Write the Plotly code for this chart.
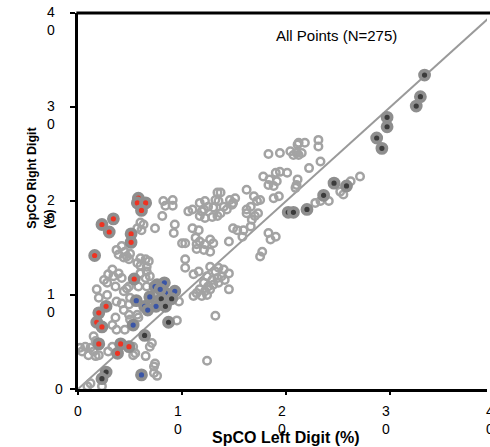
import plotly.graph_objects as go

# ---------------- data (SpCO %, left digit vs right digit) ----------------
gray_x = [8.2, 8.4, 9.1, 9.1, 8.1, 7.4, 6.0, 6.3, 5.7, 6.1, 9.3, 9.2, 10.0,
          3.7, 4.2, 4.5, 3.9, 4.4, 4.7, 5.0, 4.9, 6.0, 6.5, 6.8, 6.6, 6.0, 5.7,
          3.3, 2.9, 3.4, 3.9, 4.2, 6.0, 6.6, 6.9, 6.5, 10.3, 10.3, 2.5, 2.8,
          4.9, 5.8, 6.6,
          1.8, 2.0, 2.8, 3.6, 4.4, 4.7, 3.7, 4.2, 4.4, 4.9, 5.0, 5.0, 5.7, 5.8,
          4.9, 3.6, 3.3, 3.7, 4.5, 1.5, 1.7, 0.2, 0.7, 1.2, 1.5, 2.0, 1.7, 1.0,
          0.4, 2.9, 3.3, 5.3, 5.3, 5.5, 6.5, 7.1, 6.9, 7.4, 7.3, 7.3, 7.6, 1.2,
          0.9, 2.3, 9.5,
          18.3, 19.4, 20.4, 21.1, 20.7, 21.2, 21.0, 21.5, 21.2, 21.8, 23.1, 23.1,
          23.3, 22.2, 17.8, 18.4, 19.0, 19.4, 20.1, 19.1, 18.3, 21.1, 18.8, 21.0,
          16.2, 13.4, 13.7, 13.2, 13.5, 14.6, 15.1, 14.9, 11.7, 12.2, 12.5, 13.0,
          14.0, 14.3, 14.8, 13.7, 10.6, 11.0, 11.9, 11.7, 12.2, 12.9, 13.4, 12.1,
          16.2, 16.6, 17.2, 17.3, 17.0, 16.7, 18.8, 19.3, 20.9, 16.9, 17.5,
          26.2, 27.1, 25.2, 25.5, 22.8, 23.3, 24.1, 16.2, 16.6, 15.9,
          11.0, 11.6, 14.9, 15.3, 11.3, 11.7, 12.7, 13.0, 11.4, 12.2, 14.5, 15.8,
          18.3, 18.5, 19.0, 17.7, 17.5,
          10.3, 11.4, 12.1, 12.7, 11.1, 11.6, 12.7, 13.2, 13.5, 14.0, 14.5, 12.4,
          12.9, 13.4, 13.8, 14.1, 12.1, 12.5, 13.0, 13.5, 11.7, 12.2, 12.7, 11.4,
          11.9, 11.1, 12.4, 14.5, 9.7, 13.2, 12.4]
gray_y = [20.0, 19.5, 20.1, 19.5, 18.4, 17.1, 17.7, 17.5, 17.1, 16.9, 17.5, 16.6, 15.5,
          14.8, 15.2, 14.6, 14.3, 14.0, 14.1, 14.4, 13.8, 13.9, 13.8, 13.6, 13.0, 13.1, 13.4,
          12.7, 12.2, 12.0, 12.3, 11.8, 12.3, 12.5, 12.0, 11.8, 12.9, 13.8, 11.6, 11.3,
          10.9, 10.9, 10.9,
          10.6, 9.7, 10.0, 10.9, 10.4, 10.7, 9.3, 9.1, 8.4, 9.0, 9.7, 7.4, 7.9, 7.6,
          7.9, 7.6, 6.8, 6.3, 6.3, 5.6, 5.1, 4.4, 4.5, 4.4, 4.0, 3.6, 3.5, 3.6,
          4.0, 4.0, 4.5, 4.5, 3.6, 3.8, 3.5, 4.9, 4.5, 2.7, 2.4, 1.7, 1.4, 0.6,
          0.3, 0.3, 7.3,
          25.0, 25.1, 25.3, 26.0, 24.9, 24.9, 25.1, 25.1, 26.2, 26.2, 26.5, 25.8,
          24.2, 23.5, 22.6, 22.3, 23.0, 23.1, 23.0, 22.1, 21.7, 22.3, 21.6, 21.7,
          21.2, 20.9, 20.9, 20.1, 20.0, 20.1, 20.3, 19.8, 19.8, 20.0, 19.4, 19.3,
          19.4, 19.1, 19.6, 18.7, 18.9, 19.1, 18.9, 18.4, 18.2, 18.3, 18.4, 19.1,
          19.1, 19.4, 20.0, 18.7, 18.4, 18.0, 20.3, 20.5, 21.4, 20.5, 20.1,
          22.1, 22.6, 21.0, 20.7, 19.8, 20.0, 20.0, 18.7, 17.3, 16.9,
          17.1, 16.9, 17.1, 16.9, 16.1, 15.7, 15.9, 15.5, 15.4, 15.4, 15.7, 16.2,
          16.6, 15.9, 16.2, 14.6, 14.1,
          15.5, 14.9, 14.8, 14.6, 12.2, 12.5, 13.0, 12.5, 12.9, 12.7, 12.3, 12.0,
          11.6, 11.8, 12.0, 11.6, 11.3, 10.9, 11.1, 11.3, 10.6, 10.4, 10.6, 10.2,
          9.9, 9.9, 10.0, 10.6, 9.3, 7.8, 3.0]

red_x = [5.8, 5.7, 6.5, 6.1, 3.4, 2.3, 3.0, 5.1, 5.1, 1.6, 5.4, 2.7, 2.0, 1.8,
         2.3, 2.0, 4.1, 4.9, 3.8]
red_y = [20.3, 19.8, 19.8, 19.0, 18.1, 17.5, 16.7, 16.5, 15.6, 14.2, 11.7, 8.8,
         8.1, 7.1, 6.6, 4.8, 4.8, 4.5, 3.8]

blue_x = [7.6, 8.3, 5.6, 6.4, 6.9, 7.5, 8.4, 9.3, 6.7, 5.3, 6.1, 7.4, 7.9]
blue_y = [11.1, 11.3, 9.4, 8.8, 9.8, 8.8, 10.2, 10.4, 8.4, 6.8, 1.5, 10.9, 10.6]

dark_x = [9.0, 8.0, 8.4, 8.7, 6.4, 2.7, 2.3,
          33.3, 32.9, 32.5, 29.7, 29.7, 28.7, 29.2, 24.6, 25.8, 23.6, 20.2, 20.7, 22.0]
dark_y = [9.6, 9.6, 8.8, 7.1, 5.7, 1.8, 1.1,
          33.4, 31.1, 30.1, 28.9, 27.9, 26.7, 25.6, 21.9, 21.6, 20.6, 18.8, 18.8, 19.1]

identity = [0, 40]

x_ticks = [0, 10, 20, 30, 40]
x_tick_text = ["0", "1<br>0", "2<br>0", "3<br>0", "4<br>0"]
y_ticks = [0, 10, 20, 30, 40]
y_tick_text = ["0", "1<br>0", "2<br>0", "3<br>0", "4<br>0"]

X_MAX = 39.3
Y_MAX = 40

FONT = "Liberation Sans, Arial, sans-serif"
HALO = "#8e8e8e"

fig = go.Figure()

fig.add_trace(go.Scatter(x=identity, y=identity, mode="lines",
                         line=dict(color="#9a9a9a", width=2),
                         hoverinfo="skip", showlegend=False))

fig.add_trace(go.Scatter(x=gray_x, y=gray_y, mode="markers", cliponaxis=False,
                         marker=dict(symbol="circle-open", size=7.5, color="#a3a3a3",
                                     line=dict(width=2.5, color="#a3a3a3")),
                         showlegend=False))

for xs, ys, col in [(red_x, red_y, "#ee3322"),
                    (blue_x, blue_y, "#3a55a6"),
                    (dark_x, dark_y, "#3b3b3b")]:
    fig.add_trace(go.Scatter(x=xs, y=ys, mode="markers", cliponaxis=False,
                             marker=dict(symbol="circle", size=9, color=col,
                                         line=dict(width=3.8, color=HALO)),
                             showlegend=False))

annotations = []
for v, t in zip(x_ticks, x_tick_text):
    annotations.append(dict(x=v / X_MAX, xref="paper", y=0, yref="paper",
                            text=t, showarrow=False, xanchor="center", yanchor="top",
                            xshift=0 if "<br>" not in t else -4.5, yshift=-12,
                            font=dict(family=FONT, size=14, color="black")))
for v, t in zip(y_ticks, y_tick_text):
    multi = "<br>" in t
    annotations.append(dict(x=0, xref="paper", y=v / Y_MAX, yref="paper",
                            text=t, showarrow=False, xanchor="center", yanchor="middle",
                            xshift=-27 if multi else -19, yshift=-7.5 if multi else 0,
                            font=dict(family=FONT, size=14, color="black")))

annotations.append(dict(x=(286 - 78) / 409, xref="paper", y=0, yref="paper",
                        yanchor="middle", yshift=-48, xanchor="center",
                        text="<b>SpCO Left Digit (%)</b>", showarrow=False,
                        font=dict(family=FONT, size=16, color="black")))
annotations.append(dict(x=0, xref="paper", xshift=-38, xanchor="center",
                        y=(389.3 - 231) / 376, yref="paper", yanchor="bottom",
                        text="<b>SpCO Right Digit<br>(%)</b>", showarrow=False,
                        textangle=-90, align="left",
                        font=dict(family=FONT, size=12.5, color="black")))
annotations.append(dict(x=(336 - 78) / 409, xref="paper", y=(389.3 - 36) / 376, yref="paper",
                        xanchor="center", yanchor="middle",
                        text="All Points (N=275)", showarrow=False,
                        font=dict(family=FONT, size=15, color="black")))

fig.update_layout(
    width=490, height=447,
    margin=dict(l=78, r=3, t=13, b=58),
    paper_bgcolor="white", plot_bgcolor="white",
    font=dict(family=FONT, size=14, color="black"),
    showlegend=False,
    annotations=annotations,
    shapes=[dict(type="line", xref="paper", yref="paper", x0=-0.004, x1=1.02, y0=1, y1=1,
                 line=dict(color="black", width=3))],
    xaxis=dict(range=[0, X_MAX], showgrid=False, zeroline=False,
               showline=True, linewidth=3, linecolor="black", mirror=False,
               tickvals=x_ticks, showticklabels=False,
               ticks="outside", ticklen=3, tickwidth=2, tickcolor="black"),
    yaxis=dict(range=[0, Y_MAX], showgrid=False, zeroline=False,
               showline=True, linewidth=3, linecolor="black", mirror=False,
               tickvals=y_ticks, showticklabels=False,
               ticks="outside", ticklen=5, tickwidth=2, tickcolor="black"),
)

fig.write_html("out.html", config={"displayModeBar": False},
               post_script="document.body.style.margin='0';document.body.style.overflow='hidden';")
